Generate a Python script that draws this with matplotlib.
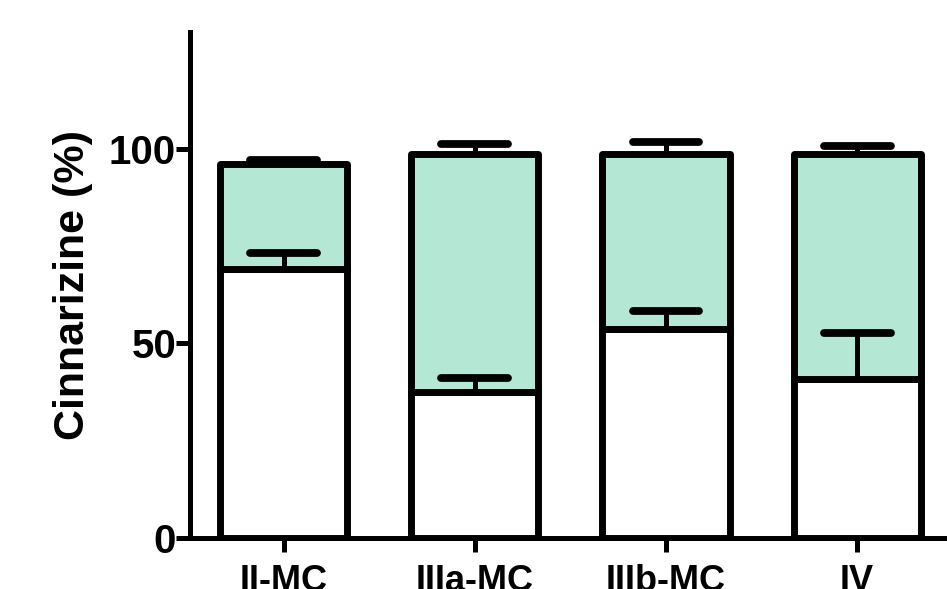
import matplotlib
matplotlib.use("Agg")
import matplotlib.pyplot as plt
import numpy as np

plt.rcParams['font.family'] = ['Liberation Sans', 'DejaVu Sans']
plt.rcParams['font.weight'] = 'bold'

# stacked cinnarizine fractions per formulation
groups = ['II-MC', 'IIIa-MC', 'IIIb-MC', 'IV']
lower = [69.2, 37.4, 53.8, 40.8]
lower_err = [3.9, 3.6, 4.4, 11.8]
total = [96.2, 98.7, 98.7, 98.7]
total_err = [1.0, 2.6, 3.1, 2.1]

mint = '#b4e8d5'
edge_lw = 5.0

fig = plt.figure(figsize=(9.47, 5.89), dpi=100)
ax = fig.add_axes([0.2006, 0.0866, 0.7994, 0.8591])

x = np.arange(len(groups))
upper = np.array(total) - np.array(lower)
width = 0.665

ax.bar(x, lower, width, color='white', edgecolor='black', linewidth=edge_lw,
       zorder=2, joinstyle='round')
ax.bar(x, upper, width, bottom=lower, color=mint, edgecolor='black',
       linewidth=edge_lw, zorder=2, joinstyle='round')

# one-sided error bars: stem + rounded cap
cap_half = 0.175
for vals, errs in [(lower, lower_err), (total, total_err)]:
    vals = np.array(vals)
    tops = vals + np.array(errs)
    ax.vlines(x, vals, tops, color='black', linewidth=3.6, zorder=3)
    ax.hlines(tops, x - cap_half, x + cap_half, color='black',
              linewidth=5.6, capstyle='round', zorder=3)

ax.set_xlim(-0.49, 3.47)
ax.set_ylim(0, 130)
ax.set_yticks([0, 50, 100])
ax.set_xticks(x)
ax.set_xticklabels(groups)

for s in ['top', 'right']:
    ax.spines[s].set_visible(False)
for s in ['left', 'bottom']:
    ax.spines[s].set_linewidth(3.6)

ax.tick_params(axis='both', direction='out', width=3.6, length=10)
ax.tick_params(axis='y', labelsize=29, pad=0)
ax.tick_params(axis='x', labelsize=26, pad=9)
for lab in ax.get_xticklabels() + ax.get_yticklabels():
    lab.set_fontweight('bold')

ax.set_ylabel('Cinnarizine (%)', fontsize=31, fontweight='bold')
ax.yaxis.set_label_coords(-0.128, 0.5)

fig.savefig('out.png', dpi=100)
